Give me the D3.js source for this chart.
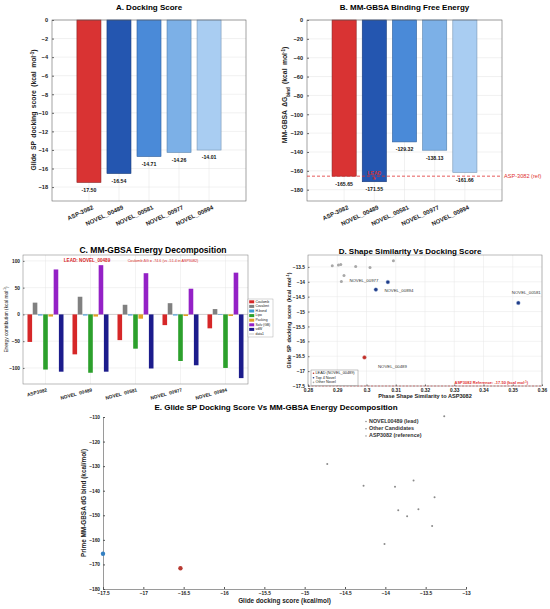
<!DOCTYPE html>
<html>
<head>
<meta charset="utf-8">
<script src="https://cdn.jsdelivr.net/npm/d3@7"></script>
<style>
body { margin: 0; background: #fff; }
svg { display: block; font-family: "Liberation Sans", Arial, sans-serif; }
</style>
</head>
<body>
<svg width="550" height="609"></svg>
<script>
const svg = d3.select("svg");

// ---- A / B : docking score and MM-GBSA bars
const compounds = ["ASP-3082", "NOVEL_00489", "NOVEL_00581", "NOVEL_00977", "NOVEL_00894"];
const dockingScores = [-17.50, -16.54, -14.71, -14.26, -14.01];
const bindingEnergies = [-165.65, -171.55, -129.32, -138.13, -161.66];
const dockingTicks = [0, -2, -4, -6, -8, -10, -12, -14, -16, -18];
const bindingTicks = [0, -20, -40, -60, -80, -100, -120, -140, -160, -180];

// ---- C : energy decomposition
const decompCompounds = ["ASP3082", "NOVEL_00489", "NOVEL_00581", "NOVEL_00977", "NOVEL_00894"];
const energyTerms = ["Coulomb", "Covalent", "H-bond", "Lipo", "Packing", "Solv (GB)", "vdW"];
const coulombE = [-51.4, -74.6, -48, -20, -26];
const covalentE = [22, 33, 18, 21, 10];
const hbondE = [-2, -2, -2, -2, -1];
const lipoE = [-103, -109, -64, -87, -100];
const packingE = [-4, -4, -8, -3, -3];
const solvE = [84, 92, 77, 48, 78];
const vdwE = [-107, -107, -101, -95, -119];
const decompTicks = [100, 50, 0, -50, -100];

// ---- D : shape similarity vs docking
const shapeTicksX = [0.28, 0.29, 0.3, 0.31, 0.32, 0.33, 0.34, 0.35, 0.36];
const shapeTicksY = [-13.5, -14, -14.5, -15, -15.5, -16, -16.5, -17, -17.5];
const leadName = "NOVEL_00489";
const leadShape = 0.2993;
const leadDock = -16.54;
const topNames = ["NOVEL_00581", "NOVEL_00977", "NOVEL_00894"];
const topShape = [0.3519, 0.3032, 0.3073];
const topDock = [-14.71, -14.26, -14.01];
const otherShape = [0.2883, 0.2904, 0.2912, 0.2963, 0.3012, 0.3092, 0.2923, 0.2914];
const otherDock = [-13.46, -13.44, -13.42, -13.49, -13.52, -13.29, -13.79, -13.99];
const refDock = -17.50;

// ---- E : docking vs MM-GBSA
const eTicksX = [-17.5, -17, -16.5, -16, -15.5, -15, -14.5, -14, -13.5, -13];
const eTicksY = [-110, -120, -130, -140, -150, -160, -170, -180];
const eLeadDock = -16.54, eLeadBind = -171.55;
const eRefDock = -17.50, eRefBind = -165.65;
const eOtherDock = [-14.72, -14.27, -14.01, -13.88, -13.65, -13.39, -13.84, -13.59, -13.73, -13.42, -13.27];
const eOtherBind = [-129.1, -138.0, -161.7, -138.4, -135.8, -142.7, -147.9, -147.5, -150.4, -154.4, -109.7];

const barFill = ["#d93333", "#2456b0", "#4a8ad8", "#7cb0e7", "#a9cdf2"];
const barEdge = ["#8a2020", "#173a7a", "#2f5f9c", "#5480ad", "#7896b5"];
const termColors = ["#d62728", "#808080", "#3c9bd6", "#2ca02c", "#e3a020", "#9421c6", "#1c1c8c"];

// superscript / subscript helper
const addUnits = (sel, parts) => {
    parts.forEach(p => {
        const t = sel.append("tspan").text(p.t);
        if (p.sup) t.attr("baseline-shift", "super").attr("font-size", "65%");
        if (p.sub) t.attr("baseline-shift", "sub").attr("font-size", "65%");
    });
};

const barPanel = o => {
    const x = d3.scaleBand().domain(compounds)
        .range([o.left, o.right]).paddingInner(0.2).paddingOuter(0.83);
    const y = d3.scaleLinear().domain(o.domain).range([o.bottom, o.top]);
    const g = svg.append("g");
    const cx = d => x(d) + x.bandwidth() / 2;

    // grid
    g.selectAll(".hg").data(o.ticks).join("line")
        .attr("x1", o.left).attr("x2", o.right)
        .attr("y1", d => y(d)).attr("y2", d => y(d))
        .attr("stroke", "#e2e2e2").attr("stroke-width", 0.5);
    g.selectAll(".vg").data(compounds).join("line")
        .attr("x1", cx).attr("x2", cx)
        .attr("y1", o.top).attr("y2", o.bottom)
        .attr("stroke", "#e2e2e2").attr("stroke-width", 0.5);

    g.selectAll("rect.bar").data(o.values).join("rect")
        .attr("class", "bar")
        .attr("x", (d, i) => x(compounds[i]))
        .attr("y", y(0))
        .attr("width", x.bandwidth())
        .attr("height", d => y(d) - y(0))
        .attr("fill", (d, i) => barFill[i])
        .attr("stroke", (d, i) => barEdge[i])
        .attr("stroke-width", 0.6);

    g.append("rect")
        .attr("x", o.left).attr("y", o.top)
        .attr("width", o.right - o.left).attr("height", o.bottom - o.top)
        .attr("fill", "none").attr("stroke", "#666").attr("stroke-width", 0.6);

    const ya = g.append("g")
        .attr("transform", `translate(${o.left},0)`)
        .call(d3.axisLeft(y).tickValues(o.ticks).tickSize(-2).tickPadding(4));
    ya.select(".domain").remove();
    ya.selectAll("line").attr("stroke", "#666");
    ya.selectAll("text").attr("font-size", 5.6).attr("font-weight", "bold").attr("fill", "#222");

    g.selectAll(".xl").data(compounds).join("text")
        .attr("transform", d => `translate(${cx(d) + 3},${o.bottom + 4}) rotate(-25)`)
        .attr("text-anchor", "end").attr("dy", "0.7em")
        .attr("font-size", 6).attr("font-weight", "bold").attr("fill", "#222")
        .text(d => d);

    g.selectAll(".vl").data(o.values).join("text")
        .attr("x", (d, i) => cx(compounds[i]))
        .attr("y", d => y(d) + 8)
        .attr("dominant-baseline", "middle").attr("text-anchor", "middle")
        .attr("font-size", 5.2).attr("font-weight", "bold").attr("fill", "#111")
        .text(d => d.toFixed(2));

    g.append("text")
        .attr("x", (o.left + o.right) / 2).attr("y", 10)
        .attr("text-anchor", "middle")
        .attr("font-size", 8).attr("font-weight", "bold")
        .text(o.title);

    const yl = g.append("text")
        .attr("transform", `translate(${o.ylabelX},${o.ylabelY}) rotate(-90)`)
        .attr("text-anchor", "middle")
        .attr("font-size", 6.8).attr("font-weight", "bold").attr("fill", "#222")
        .attr("word-spacing", 1.5);
    addUnits(yl, o.ylabel);
    return { x, y, g, cx };
};

// A
barPanel({
    left: 52, right: 246, top: 20, bottom: 201,
    domain: [-19.5, 0], ticks: dockingTicks, values: dockingScores,
    title: "A. Docking Score",
    ylabelX: 36, ylabelY: 110,
    ylabel: [{ t: "Glide SP docking score (kcal mol" }, { t: "-1", sup: true }, { t: ")" }]
});

// B
const pB = barPanel({
    left: 307, right: 502, top: 20, bottom: 201,
    domain: [-192, 0], ticks: bindingTicks, values: bindingEnergies,
    title: "B. MM-GBSA Binding Free Energy",
    ylabelX: 287, ylabelY: 95,
    ylabel: [{ t: "MM-GBSA ΔG" }, { t: "bind", sub: true }, { t: " (kcal mol" }, { t: "-1", sup: true }, { t: ")" }]
});
pB.g.append("line")
    .attr("x1", 307).attr("x2", 502)
    .attr("y1", pB.y(bindingEnergies[0])).attr("y2", pB.y(bindingEnergies[0]))
    .attr("stroke", "#e03030").attr("stroke-width", 0.8).attr("stroke-dasharray", "3,2");
pB.g.append("text")
    .attr("x", 504).attr("y", pB.y(bindingEnergies[0]))
    .attr("dominant-baseline", "middle")
    .attr("font-size", 5.6).attr("fill", "#e03030")
    .text("ASP-3082 (ref)");
pB.g.append("text")
    .attr("x", pB.cx(compounds[1])).attr("y", pB.y(bindingEnergies[1]) - 8)
    .attr("text-anchor", "middle").attr("dominant-baseline", "middle")
    .attr("font-size", 5).attr("font-weight", "bold").attr("fill", "#d03030")
    .text("LEAD");
pB.g.append("text")
    .attr("x", pB.cx(compounds[1])).attr("y", pB.y(bindingEnergies[1]) - 3.5)
    .attr("text-anchor", "middle").attr("dominant-baseline", "middle")
    .attr("font-size", 5).attr("fill", "#d03030")
    .text("★");

// C
(() => {
    const L = 23, R = 248, T = 255, B = 384;
    const series = [coulombE, covalentE, hbondE, lipoE, packingE, solvE, vdwE];
    const x0 = d3.scaleBand().domain(decompCompounds).range([L, R]).paddingInner(0.2).paddingOuter(0.1);
    const x1 = d3.scaleBand().domain(energyTerms).range([0, x0.bandwidth()]).paddingInner(0.12);
    const y = d3.scaleLinear().domain([-130, 111]).range([B, T]);
    const g = svg.append("g");

    g.selectAll(".hg").data(decompTicks).join("line")
        .attr("x1", L).attr("x2", R).attr("y1", d => y(d)).attr("y2", d => y(d))
        .attr("stroke", "#e6e6e6").attr("stroke-width", 0.5);
    g.selectAll(".vg").data(decompCompounds).join("line")
        .attr("x1", d => x0(d) + x0.bandwidth() / 2).attr("x2", d => x0(d) + x0.bandwidth() / 2)
        .attr("y1", T).attr("y2", B)
        .attr("stroke", "#e6e6e6").attr("stroke-width", 0.5);
    g.append("line").attr("x1", L).attr("x2", R).attr("y1", y(0)).attr("y2", y(0))
        .attr("stroke", "#999").attr("stroke-width", 0.4);

    series.forEach((vals, k) => {
        g.selectAll(`.s${k}`).data(vals).join("rect")
            .attr("x", (d, i) => x0(decompCompounds[i]) + x1(energyTerms[k]))
            .attr("y", d => y(Math.max(0, d)))
            .attr("width", x1.bandwidth())
            .attr("height", d => Math.abs(y(d) - y(0)))
            .attr("fill", termColors[k]);
    });

    g.append("rect").attr("x", L).attr("y", T).attr("width", R - L).attr("height", B - T)
        .attr("fill", "none").attr("stroke", "#777").attr("stroke-width", 0.5);

    const ya = g.append("g").attr("transform", `translate(${L},0)`)
        .call(d3.axisLeft(y).tickValues(decompTicks).tickSize(-1.5).tickPadding(3));
    ya.select(".domain").remove();
    ya.selectAll("line").attr("stroke", "#666");
    ya.selectAll("text").attr("font-size", 4.8).attr("font-weight", "bold").attr("fill", "#222");

    g.selectAll(".xl").data(decompCompounds).join("text")
        .attr("transform", d => `translate(${x0(d) + x0.bandwidth() / 2 + 1},${B + 4}) rotate(-15)`)
        .attr("text-anchor", "end").attr("dy", "0.7em")
        .attr("font-size", 4.8).attr("font-weight", "bold").attr("fill", "#222")
        .text(d => d);

    g.append("text").attr("x", 153).attr("y", 253)
        .attr("text-anchor", "middle").attr("font-size", 8.5).attr("font-weight", "bold")
        .text("C. MM-GBSA Energy Decomposition");

    const yl = g.append("text").attr("transform", `translate(8,${(T + B) / 2}) rotate(-90)`)
        .attr("text-anchor", "middle").attr("font-size", 4.8).attr("fill", "#222");
    addUnits(yl, [{ t: "Energy contribution (kcal mol" }, { t: "-1", sup: true }, { t: ")" }]);

    g.append("text").attr("x", 87).attr("y", 261).attr("text-anchor", "middle")
        .attr("dominant-baseline", "middle")
        .attr("font-size", 4.6).attr("font-weight", "bold").attr("fill", "#d62728")
        .text(`LEAD: ${decompCompounds[1]}`);
    g.append("text").attr("x", 163).attr("y", 261).attr("text-anchor", "middle")
        .attr("dominant-baseline", "middle")
        .attr("font-size", 3.7).attr("fill", "#d62728")
        .text(`Coulomb ΔG = ${coulombE[1]} (vs ${coulombE[0]} in ${decompCompounds[0]})`);

    // legend
    const lg = g.append("g").attr("transform", "translate(248,299)");
    lg.append("rect").attr("width", 25).attr("height", 38)
        .attr("fill", "#fff").attr("stroke", "#999").attr("stroke-width", 0.4);
    const items = energyTerms.concat(["data1"]);
    items.forEach((name, i) => {
        const yy = 2.8 + i * 4.6;
        if (i < energyTerms.length) {
            lg.append("rect").attr("x", 1.2).attr("y", yy - 1.5).attr("width", 5).attr("height", 3)
                .attr("fill", termColors[i]);
        } else {
            lg.append("line").attr("x1", 1.2).attr("x2", 6.2).attr("y1", yy).attr("y2", yy)
                .attr("stroke", "#666").attr("stroke-width", 0.4);
        }
        lg.append("text").attr("x", 7.5).attr("y", yy).attr("dominant-baseline", "middle")
            .attr("font-size", 3.4).attr("fill", "#222").text(name);
    });
})();

// D
(() => {
    const L = 308, R = 542, T = 255, B = 386;
    const x = d3.scaleLinear().domain([0.28, 0.36]).range([L, R]);
    const y = d3.scaleLinear().domain([-17.5, -13.1]).range([B, T]);
    const g = svg.append("g");

    g.selectAll(".hg").data(shapeTicksY).join("line")
        .attr("x1", L).attr("x2", R).attr("y1", d => y(d)).attr("y2", d => y(d))
        .attr("stroke", "#e6e6e6").attr("stroke-width", 0.5);
    g.selectAll(".vg").data(shapeTicksX).join("line")
        .attr("x1", d => x(d)).attr("x2", d => x(d)).attr("y1", T).attr("y2", B)
        .attr("stroke", "#e6e6e6").attr("stroke-width", 0.5);

    g.append("line").attr("x1", L).attr("x2", R).attr("y1", y(refDock)).attr("y2", y(refDock))
        .attr("stroke", "#e03030").attr("stroke-width", 0.6).attr("stroke-dasharray", "2,1.5");
    const rt = g.append("text").attr("x", 528).attr("y", y(refDock) - 2.5).attr("text-anchor", "end")
        .attr("font-size", 4).attr("font-weight", "bold").attr("fill", "#e03030");
    addUnits(rt, [{ t: `ASP3082 Reference: ${refDock.toFixed(2)} (kcal mol` }, { t: "-1", sup: true }, { t: ")" }]);

    g.append("rect").attr("x", L).attr("y", T).attr("width", R - L).attr("height", B - T)
        .attr("fill", "none").attr("stroke", "#777").attr("stroke-width", 0.5);

    g.selectAll(".op").data(otherShape).join("circle")
        .attr("cx", d => x(d)).attr("cy", (d, i) => y(otherDock[i])).attr("r", 1.5)
        .attr("fill", "#a8a8a8");
    g.selectAll(".tp").data(topShape).join("circle")
        .attr("cx", d => x(d)).attr("cy", (d, i) => y(topDock[i])).attr("r", 1.9)
        .attr("fill", "#1f3c88").attr("stroke", "#9ab0d8").attr("stroke-width", 0.4);
    g.append("circle").attr("cx", x(leadShape)).attr("cy", y(leadDock)).attr("r", 1.9)
        .attr("fill", "#c0302a").attr("stroke", "#e09a96").attr("stroke-width", 0.4);

    // label offsets (px) from each point
    const topOffsets = [[8, -10], [-12, -9], [11, 9]];
    topNames.forEach((n, i) => {
        g.append("text")
            .attr("x", x(topShape[i]) + topOffsets[i][0]).attr("y", y(topDock[i]) + topOffsets[i][1])
            .attr("text-anchor", "middle").attr("dominant-baseline", "middle")
            .attr("font-size", 4.3).attr("fill", "#333").text(n);
    });
    g.append("text").attr("x", x(leadShape) + 28).attr("y", y(leadDock) + 9)
        .attr("text-anchor", "middle").attr("dominant-baseline", "middle")
        .attr("font-size", 4.3).attr("fill", "#333").text(leadName);

    const xa = g.append("g").attr("transform", `translate(0,${B})`)
        .call(d3.axisBottom(x).tickValues(shapeTicksX).tickSize(-1.5).tickPadding(2.5).tickFormat(d3.format("~g")));
    xa.select(".domain").remove();
    xa.selectAll("line").attr("stroke", "#666");
    xa.selectAll("text").attr("font-size", 4.8).attr("font-weight", "bold").attr("fill", "#222");
    const ya = g.append("g").attr("transform", `translate(${L},0)`)
        .call(d3.axisLeft(y).tickValues(shapeTicksY).tickSize(-1.5).tickPadding(3).tickFormat(d3.format("~g")));
    ya.select(".domain").remove();
    ya.selectAll("line").attr("stroke", "#666");
    ya.selectAll("text").attr("font-size", 4.8).attr("font-weight", "bold").attr("fill", "#222");

    g.append("text").attr("x", 410).attr("y", 254).attr("text-anchor", "middle")
        .attr("font-size", 8).attr("font-weight", "bold").text("D. Shape Similarity Vs Docking Score");
    g.append("text").attr("x", 425).attr("y", 398).attr("text-anchor", "middle")
        .attr("font-size", 5.6).attr("font-weight", "bold").attr("fill", "#222")
        .text("Phase Shape Similarity to ASP3082");
    const yl = g.append("text").attr("transform", `translate(291,${(T + B) / 2}) rotate(-90)`)
        .attr("text-anchor", "middle").attr("font-size", 5.4).attr("font-weight", "bold")
        .attr("fill", "#222").attr("word-spacing", 1.2);
    addUnits(yl, [{ t: "Glide SP docking score (kcal mol" }, { t: "-1", sup: true }, { t: ")" }]);

    // legend
    const lg = g.append("g").attr("transform", "translate(311,370)");
    lg.append("rect").attr("width", 47).attr("height", 15.5)
        .attr("fill", "#fff").attr("stroke", "#888").attr("stroke-width", 0.5);
    const legItems = [[`LEAD (${leadName})`, "#c0302a"], ["Top 4 Novel", "#1f3c88"], ["Other Novel", "#a8a8a8"]];
    legItems.forEach((it, i) => {
        const yy = 3.2 + i * 4.6;
        lg.append("circle").attr("cx", 2.5).attr("cy", yy).attr("r", 0.8).attr("fill", it[1]);
        lg.append("text").attr("x", 4.5).attr("y", yy).attr("dominant-baseline", "middle")
            .attr("font-size", 3.8).attr("fill", "#222").text(it[0]);
    });
})();

// E
(() => {
    const L = 103, R = 466, T = 417, B = 589;
    const x = d3.scaleLinear().domain([-17.5, -13]).range([L, R]);
    const y = d3.scaleLinear().domain([-180, -110]).range([B, T]);
    const g = svg.append("g");

    const xa = g.append("g").attr("transform", `translate(0,${B})`)
        .call(d3.axisBottom(x).tickValues(eTicksX).tickSize(-2).tickPadding(3).tickFormat(d3.format("~g")));
    xa.select(".domain").attr("stroke", "#555").attr("stroke-width", 0.6);
    xa.selectAll("line").attr("stroke", "#555");
    xa.selectAll("text").attr("font-size", 4.8).attr("font-weight", "bold").attr("fill", "#222");
    const ya = g.append("g").attr("transform", `translate(${L},0)`)
        .call(d3.axisLeft(y).tickValues(eTicksY).tickSize(-2).tickPadding(3));
    ya.select(".domain").attr("stroke", "#555").attr("stroke-width", 0.6);
    ya.selectAll("line").attr("stroke", "#555");
    ya.selectAll("text").attr("font-size", 4.8).attr("font-weight", "bold").attr("fill", "#222");

    g.selectAll(".op").data(eOtherDock).join("circle")
        .attr("cx", d => x(d)).attr("cy", (d, i) => y(eOtherBind[i])).attr("r", 1)
        .attr("fill", "#8a8a8a");
    g.append("circle").attr("cx", x(eLeadDock)).attr("cy", y(eLeadBind)).attr("r", 2.2)
        .attr("fill", "#b83a32");
    g.append("circle").attr("cx", x(eRefDock)).attr("cy", y(eRefBind)).attr("r", 2.2)
        .attr("fill", "#3480c2");

    g.append("text").attr("x", 276).attr("y", 410).attr("text-anchor", "middle")
        .attr("font-size", 8).attr("font-weight", "bold")
        .text("E. Glide SP Docking Score Vs MM-GBSA Energy Decomposition");
    g.append("text").attr("x", (L + R) / 2).attr("y", 603).attr("text-anchor", "middle")
        .attr("font-size", 6.4).attr("font-weight", "bold").attr("fill", "#222")
        .text("Glide docking score (kcal/mol)");
    g.append("text").attr("transform", `translate(86,${(T + B) / 2}) rotate(-90)`)
        .attr("text-anchor", "middle").attr("font-size", 6.4).attr("font-weight", "bold").attr("fill", "#222")
        .text("Prime MM-GBSA dG bind (kcal/mol)");

    const legItems = ["NOVEL00489 (lead)", "Other Candidates", "ASP3082 (reference)"];
    legItems.forEach((t, i) => {
        const yy = 421.5 + i * 7.2;
        g.append("circle").attr("cx", 366).attr("cy", yy).attr("r", 0.7).attr("fill", "#777");
        g.append("text").attr("x", 369).attr("y", yy).attr("dominant-baseline", "middle")
            .attr("font-size", 5.4).attr("font-weight", "bold").attr("fill", "#333").text(t);
    });
})();
</script>
</body>
</html>
